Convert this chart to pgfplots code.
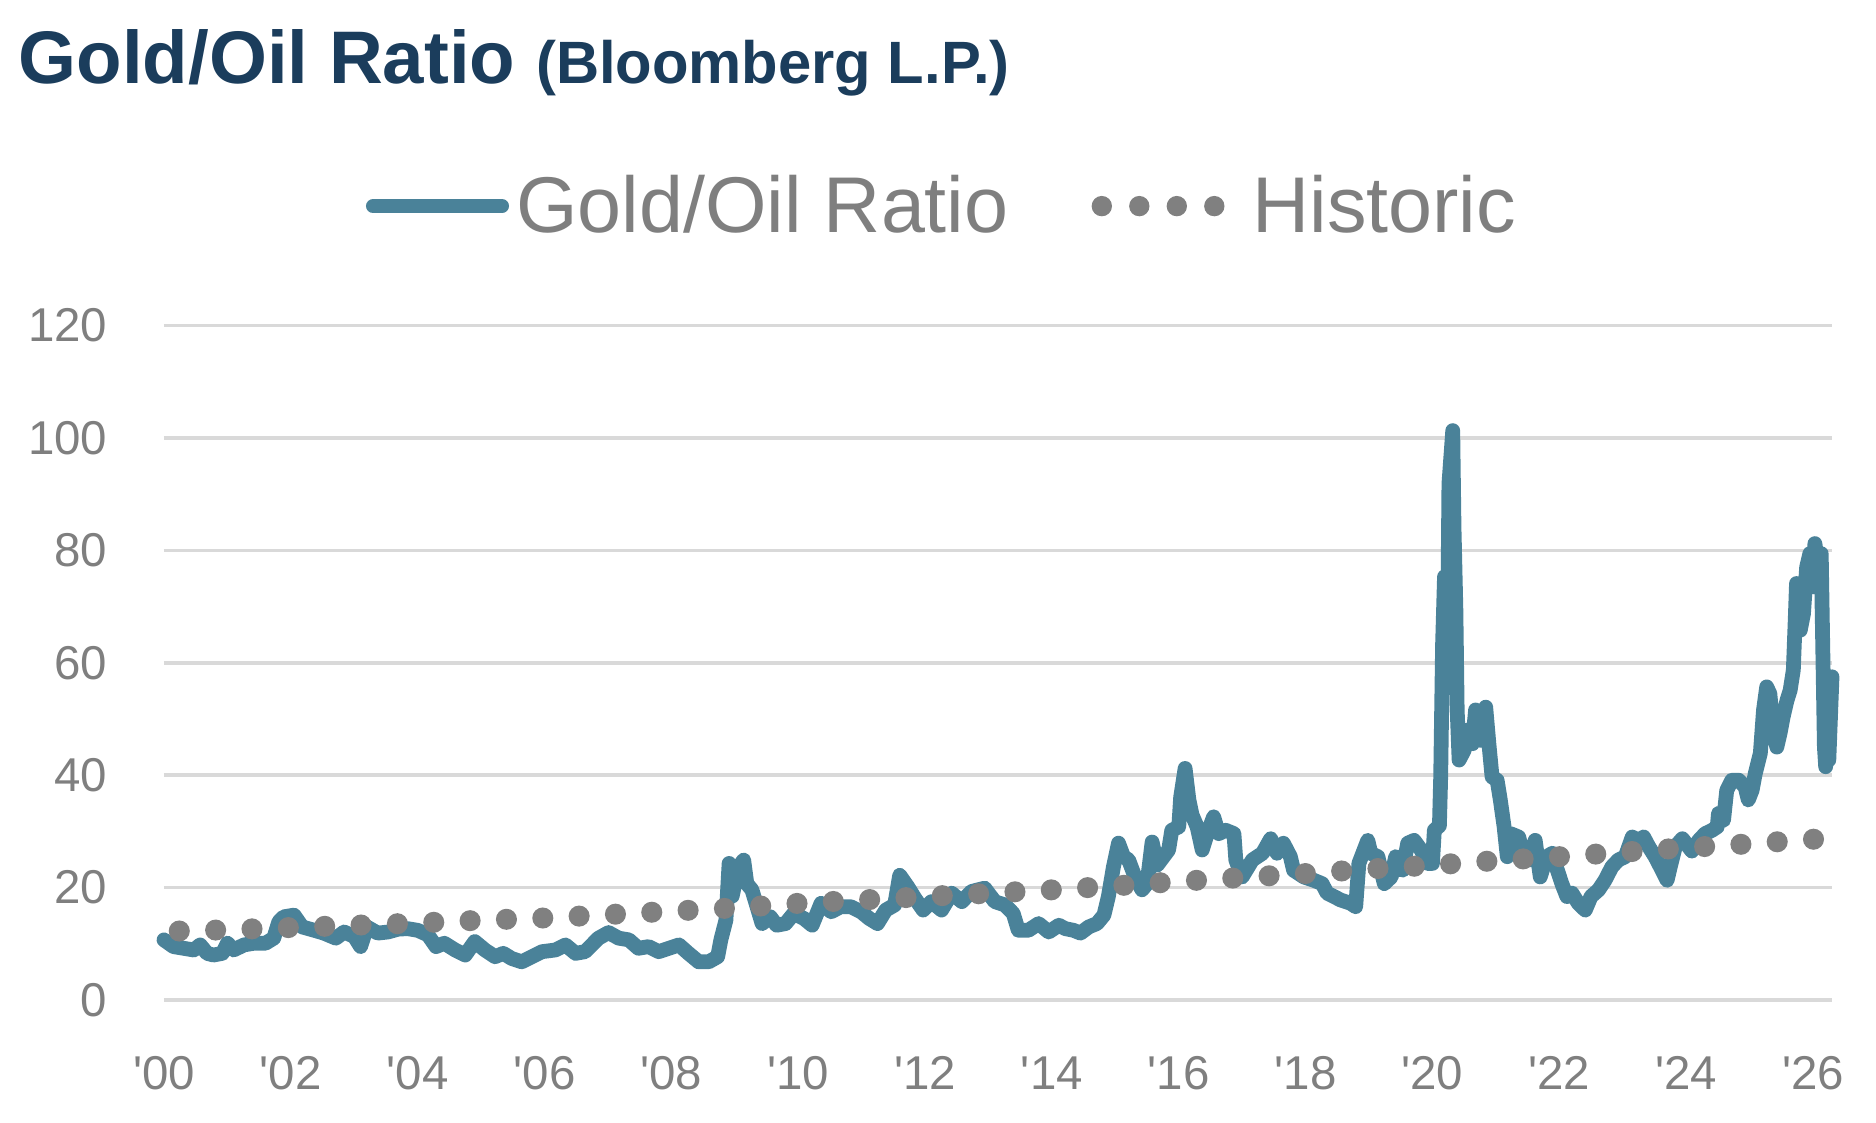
\documentclass[border=0pt]{standalone}
\usepackage{fontspec}
\setmainfont{Liberation Sans}[Ligatures=TeXOff]
\usepackage{pgfplots}
\pgfplotsset{compat=1.18}
\definecolor{teal1}{HTML}{4A8299}
\definecolor{dotgray}{HTML}{808080}
\definecolor{textgray}{HTML}{7F7F7F}
\definecolor{navy}{HTML}{1B3D5C}
\definecolor{gridgray}{HTML}{D9D9D9}

\pgfplotstableread{
year ratio
2000.00 10.7
2000.15 9.5
2000.31 9.2
2000.47 8.9
2000.57 9.8
2000.68 8.3
2000.78 8.0
2000.92 8.3
2001.00 10.1
2001.10 8.9
2001.26 9.8
2001.42 10.1
2001.60 10.1
2001.73 11.0
2001.81 13.9
2001.89 14.8
2002.05 15.1
2002.18 13.0
2002.37 12.4
2002.52 11.9
2002.71 11.0
2002.84 12.1
2003.00 11.3
2003.10 9.5
2003.20 13.0
2003.37 11.9
2003.53 12.1
2003.69 12.6
2003.84 12.7
2004.00 12.4
2004.16 11.6
2004.29 9.5
2004.42 10.1
2004.59 8.9
2004.75 8.0
2004.90 10.4
2005.06 8.9
2005.22 7.7
2005.35 8.3
2005.48 7.4
2005.64 6.8
2005.80 7.7
2005.96 8.6
2006.17 8.9
2006.33 9.8
2006.49 8.3
2006.64 8.6
2006.85 11.0
2007.01 12.0
2007.17 11.0
2007.33 10.7
2007.48 9.2
2007.64 9.5
2007.80 8.6
2007.96 9.2
2008.12 9.8
2008.27 8.3
2008.43 6.8
2008.59 6.8
2008.73 7.7
2008.78 10.7
2008.86 14.2
2008.91 24.3
2008.96 18.5
2009.05 23.5
2009.14 24.9
2009.19 20.7
2009.27 19.6
2009.35 16.6
2009.43 13.6
2009.56 14.8
2009.66 13.3
2009.80 13.6
2009.93 15.4
2010.09 14.5
2010.22 13.3
2010.36 17.2
2010.52 15.7
2010.67 16.6
2010.83 16.6
2010.99 15.7
2011.12 14.5
2011.25 13.6
2011.38 16.0
2011.52 16.9
2011.60 22.2
2011.73 20.1
2011.84 18.1
2011.97 16.0
2012.10 17.5
2012.26 16.0
2012.42 19.0
2012.58 17.5
2012.73 19.3
2012.94 19.9
2013.10 17.5
2013.26 16.9
2013.39 15.4
2013.47 12.4
2013.63 12.4
2013.79 13.6
2013.95 12.1
2014.11 13.3
2014.21 12.7
2014.34 12.4
2014.45 11.9
2014.58 13.0
2014.71 13.6
2014.82 15.1
2014.89 18.4
2014.97 23.7
2015.05 27.9
2015.13 25.5
2015.21 24.9
2015.31 21.9
2015.42 19.6
2015.50 20.7
2015.58 28.1
2015.66 24.0
2015.76 25.5
2015.84 26.7
2015.89 30.2
2016.00 30.8
2016.03 36.1
2016.10 41.2
2016.16 35.6
2016.21 32.9
2016.29 30.8
2016.37 26.7
2016.45 29.6
2016.55 32.6
2016.63 29.6
2016.74 30.2
2016.87 29.6
2016.90 24.9
2017.00 21.9
2017.16 24.9
2017.32 26.1
2017.45 28.7
2017.55 26.1
2017.65 27.9
2017.76 25.5
2017.81 23.1
2017.97 21.9
2018.13 21.3
2018.26 20.7
2018.34 19.0
2018.45 18.4
2018.55 17.8
2018.71 17.2
2018.79 16.6
2018.84 24.3
2018.98 28.4
2019.03 26.1
2019.14 25.5
2019.24 20.7
2019.35 21.9
2019.42 25.5
2019.53 23.1
2019.61 27.9
2019.71 28.4
2019.82 26.7
2019.92 24.3
2020.00 24.3
2020.03 30.2
2020.11 31.0
2020.13 39.7
2020.16 63.4
2020.19 75.3
2020.24 66.4
2020.26 91.9
2020.32 101.3
2020.34 84.1
2020.37 69.3
2020.39 51.6
2020.42 42.7
2020.50 44.4
2020.55 48.0
2020.63 45.6
2020.68 51.6
2020.76 46.2
2020.84 52.1
2020.89 45.6
2020.94 39.7
2021.02 39.1
2021.07 35.6
2021.13 30.8
2021.18 25.5
2021.23 29.6
2021.36 29.0
2021.44 25.5
2021.52 24.9
2021.62 28.4
2021.70 21.9
2021.80 25.5
2021.89 26.1
2021.97 23.1
2022.04 20.7
2022.12 18.4
2022.20 19.0
2022.30 17.2
2022.41 16.0
2022.50 18.4
2022.62 19.6
2022.72 21.3
2022.83 23.7
2022.93 24.9
2023.04 25.5
2023.15 29.0
2023.25 28.4
2023.33 29.0
2023.41 27.3
2023.51 25.5
2023.62 23.1
2023.70 21.3
2023.75 23.7
2023.83 27.3
2023.94 28.7
2024.09 26.5
2024.20 28.4
2024.30 29.6
2024.41 30.2
2024.49 30.8
2024.51 33.2
2024.59 32.0
2024.64 37.3
2024.72 39.1
2024.83 39.1
2024.93 37.9
2024.98 35.6
2025.04 37.3
2025.09 40.3
2025.17 43.9
2025.22 51.6
2025.27 55.7
2025.32 54.5
2025.38 47.4
2025.43 45.0
2025.48 47.4
2025.53 50.4
2025.59 53.3
2025.64 55.1
2025.69 58.7
2025.72 67.6
2025.74 74.1
2025.80 65.8
2025.85 68.7
2025.90 77.0
2025.95 79.4
2026.00 73.5
2026.03 81.2
2026.08 77.6
2026.13 79.4
2026.18 45.0
2026.20 41.5
2026.23 57.5
2026.25 42.7
2026.30 57.5
}\ratiotable

\pgfplotstableread{
year hist
2000 12.2
2001 12.5
2002 12.9
2003 13.3
2004 13.7
2005 14.2
2006 14.6
2007 15.2
2008 15.8
2009 16.4
2010 17.2
2011 17.8
2012 18.4
2013 19.0
2014 19.6
2015 20.3
2016 21.1
2017 21.8
2018 22.5
2019 23.3
2020 24.0
2021 24.8
2022 25.5
2023 26.3
2024 27.1
2025 27.8
2026 28.6
2026.25 28.8
}\histtable

\begin{document}
\begin{tikzpicture}
\useasboundingbox (-1.64cm,-1.22cm) rectangle (17.12cm,10.00cm);
\node[anchor=base west, inner sep=0pt, text=navy] at (-1.46cm,9.16cm)
  {\fontsize{21.2}{26}\selectfont\bfseries Gold/Oil Ratio \fontsize{17}{20}\selectfont (Bloomberg L.P.)};
\begin{axis}[
  scale only axis, width=16.68cm, height=6.745cm,
  xmin=2000, xmax=2026.3, ymin=0, ymax=120,
  clip=false,
  ytick={0,20,...,120},
  xtick={2000,2002,...,2026},
  xticklabels={'00,'02,'04,'06,'08,'10,'12,'14,'16,'18,'20,'22,'24,'26},
  /pgf/number format/assume math mode=true,
  axis line style={draw=none}, tick style={draw=none}, major tick length=0pt,
  ymajorgrids, grid style={gridgray, line width=1pt},
  tick label style={font=\fontsize{13.5}{16}\selectfont, text=textgray},
  yticklabel style={anchor=east, inner sep=0pt, xshift=-5.6mm},
  xticklabel style={anchor=north, inner sep=0pt, yshift=-5.6mm},
  legend columns=2,
  legend style={draw=none, fill=none, inner sep=0pt, outer sep=0pt,
    at={(0.1211,1.1770)}, anchor=west,
    font=\fontsize{22.5}{27}\selectfont, text=textgray,
    nodes={inner sep=0pt},
    /tikz/every odd column/.append style={column sep=0pt},
    /tikz/every even column/.append style={column sep=0.83cm}},
]
\addplot[teal1, line width=4.2pt, line join=round, line cap=round,
  legend image code/.code={\draw[teal1, line width=4pt, line cap=round] (0cm,0cm) -- (1.29cm,0cm); \path (1.36cm,0cm);}]
  table[x=year, y=ratio] {\ratiotable};
\addlegendentry{Gold/Oil Ratio}
\addplot[dotgray, line width=6pt, line cap=round, dash pattern=on 0pt off 10.35pt, dash phase=6pt,
  legend image code/.code={\path[fill=dotgray, draw=none, solid] (0cm,0cm) circle (2.9pt) (0.375cm,0cm) circle (2.9pt) (0.75cm,0cm) circle (2.9pt) (1.125cm,0cm) circle (2.9pt); \path (1.40cm,0cm);}]
  table[x=year, y=hist] {\histtable};
\addlegendentry{Historic}
\end{axis}
\end{tikzpicture}
\end{document}
